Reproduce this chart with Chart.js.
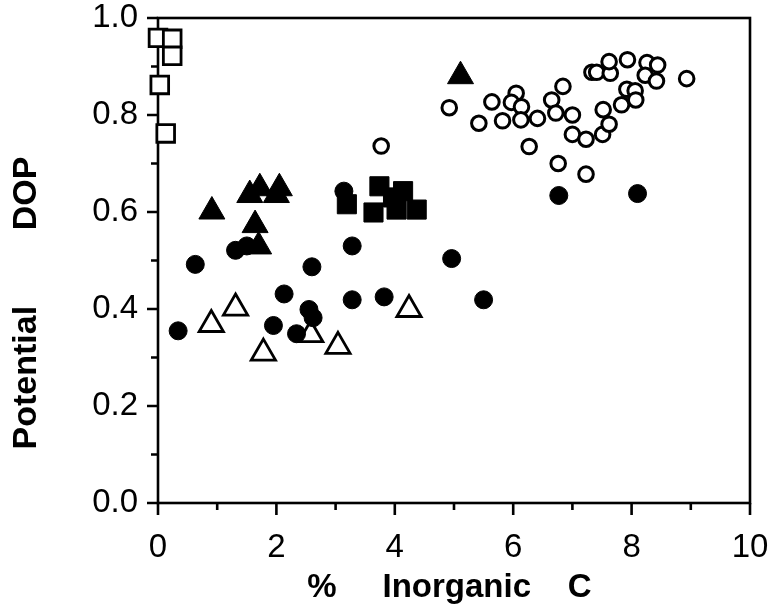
<!DOCTYPE html>
<html>
<head>
<meta charset="utf-8">
<script src="https://cdn.jsdelivr.net/npm/chart.js@4.4.0/dist/chart.umd.min.js"></script>
<style>
html,body{margin:0;padding:0;background:#fff;}
#wrap{width:775px;height:616px;}
</style>
</head>
<body>
<div id="wrap"><canvas id="c" width="775" height="616"></canvas></div>
<script>
// ---- data ----
const openSquareX = [0.00, 0.24, 0.24, 0.03, 0.13];
const openSquareY = [0.959, 0.957, 0.922, 0.862, 0.762];

const filledSquareX = [3.19, 3.74, 3.64, 4.14, 4.03, 4.37, 3.97];
const filledSquareY = [0.616, 0.653, 0.599, 0.643, 0.605, 0.605, 0.630];

const filledTriX = [0.91, 1.55, 1.72, 2.05, 2.00, 1.64, 1.70, 5.11];
const filledTriY = [0.601, 0.635, 0.649, 0.649, 0.635, 0.573, 0.529, 0.880];

const openTriX = [0.90, 1.31, 1.78, 2.58, 3.04, 4.24];
const openTriY = [0.368, 0.402, 0.309, 0.347, 0.323, 0.399];

const filledCircX = [0.63, 1.31, 1.50, 2.60, 3.14, 3.28, 4.96, 0.34, 2.13, 1.95, 2.34, 2.55, 2.62, 3.28, 3.82, 5.50, 6.77, 8.10];
const filledCircY = [0.492, 0.521, 0.530, 0.487, 0.643, 0.530, 0.504, 0.355, 0.431, 0.366, 0.349, 0.399, 0.382, 0.419, 0.425, 0.419, 0.634, 0.638];

const openCircX = [4.92, 5.42, 5.64, 5.82, 6.05, 5.97, 6.14, 6.13, 6.41, 6.27, 6.65, 6.84, 6.72, 7.00, 7.00, 7.23, 6.76, 7.23, 7.51, 7.52, 7.62, 7.83, 7.92, 8.06, 8.07, 7.33, 7.41, 7.64, 7.62, 7.93, 8.26, 8.44, 8.23, 8.42, 8.93, 3.77];
const openCircY = [0.815, 0.783, 0.827, 0.788, 0.845, 0.826, 0.817, 0.790, 0.793, 0.735, 0.831, 0.859, 0.804, 0.800, 0.760, 0.750, 0.700, 0.678, 0.760, 0.811, 0.781, 0.821, 0.853, 0.850, 0.831, 0.888, 0.888, 0.886, 0.910, 0.914, 0.908, 0.903, 0.882, 0.870, 0.875, 0.736];

const xTickValues = [0, 1, 2, 3, 4, 5, 6, 7, 8, 9, 10];
const xTickLabels = ['0', '', '2', '', '4', '', '6', '', '8', '', '10'];
const yTickValues = [0, 0.1, 0.2, 0.3, 0.4, 0.5, 0.6, 0.7, 0.8, 0.9, 1.0];
const yTickLabels = ['0.0', '', '0.2', '', '0.4', '', '0.6', '', '0.8', '', '1.0'];

const xTitle = '%     Inorganic    C ';
const yTitle = 'Potential        DOP         ';

function pts(xs, ys) { return xs.map((x, i) => ({ x: x, y: ys[i] })); }

// frame + minor/major tick marks drawn through the scales
const framePlugin = {
  id: 'frame',
  beforeDatasetsDraw(chart) {
    const { ctx, chartArea: a, scales: { x, y } } = chart;
    ctx.save();
    ctx.strokeStyle = '#000';
    ctx.lineWidth = 2.6;
    ctx.lineCap = 'butt';
    ctx.strokeRect(a.left, a.top, a.right - a.left, a.bottom - a.top);
    ctx.beginPath();
    yTickValues.forEach((v, i) => {
      const py = y.getPixelForValue(v);
      const len = yTickLabels[i] ? 11 : 7;
      ctx.moveTo(a.left, py); ctx.lineTo(a.left - len, py);
    });
    xTickValues.forEach((v, i) => {
      const px = x.getPixelForValue(v);
      const len = xTickLabels[i] ? 12 : 7;
      ctx.moveTo(px, a.bottom); ctx.lineTo(px, a.bottom + len);
    });
    ctx.stroke();
    ctx.restore();
  }
};

const ds = (data, style, radius, filled, bw) => ({
  data: data,
  pointStyle: style,
  pointRadius: radius,
  pointHoverRadius: radius,
  pointBorderWidth: bw,
  borderWidth: bw,
  pointBackgroundColor: filled ? '#000' : '#fff',
  backgroundColor: filled ? '#000' : '#fff',
  pointBorderColor: '#000',
  borderColor: '#000',
  showLine: false,
  clip: false
});

const FONT = '"Liberation Sans", Arial, Helvetica, sans-serif';

new Chart(document.getElementById('c'), {
  type: 'scatter',
  data: {
    datasets: [
      ds(pts(openCircX, openCircY), 'circle', 7.3, false, 3),
      ds(pts(openSquareX, openSquareY), 'rect', 12.5, false, 2.8),
      ds(pts(filledSquareX, filledSquareY), 'rect', 13.5, true, 1),
      ds(pts(filledCircX, filledCircY), 'circle', 9, true, 1),
      ds(pts(openTriX, openTriY), 'triangle', 14, false, 2.8),
      ds(pts(filledTriX, filledTriY), 'triangle', 15, true, 1)
    ]
  },
  options: {
    responsive: false,
    devicePixelRatio: 1,
    animation: false,
    events: [],
    layout: { padding: { top: 18, right: 25, left: 0, bottom: 0 } },
    plugins: { legend: { display: false }, tooltip: { enabled: false } },
    scales: {
      x: {
        type: 'linear', min: 0, max: 10,
        afterFit(s) { s.height = 113; s.paddingLeft = 0; s.paddingRight = 0; },
        grid: { display: false, drawTicks: false },
        border: { display: false },
        ticks: {
          stepSize: 2, padding: 28, color: '#000', maxRotation: 0,
          font: { family: FONT, size: 33, lineHeight: 1.0 },
          callback: (v) => xTickLabels[xTickValues.indexOf(v)] ?? ''
        },
        title: {
          display: true, text: xTitle, color: '#000',
          font: { family: FONT, size: 33, weight: 'bold', lineHeight: 1.2 },
          padding: { top: 0, bottom: 8 }
        }
      },
      y: {
        type: 'linear', min: 0, max: 1,
        afterFit(s) { s.width = 158; s.paddingTop = 0; s.paddingBottom = 0; },
        grid: { display: false, drawTicks: false },
        border: { display: false },
        ticks: {
          stepSize: 0.2, padding: 20, color: '#000',
          font: { family: FONT, size: 33, lineHeight: 1.0 },
          callback: (v) => { const i = yTickValues.findIndex(t => Math.abs(t - v) < 1e-6); return i >= 0 ? yTickLabels[i] : ''; }
        },
        title: {
          display: true, text: yTitle, color: '#000',
          font: { family: FONT, size: 34, weight: 'bold', lineHeight: 1.2 },
          padding: { top: 6, bottom: 0 }
        }
      }
    }
  },
  plugins: [framePlugin]
});
</script>
</body>
</html>
